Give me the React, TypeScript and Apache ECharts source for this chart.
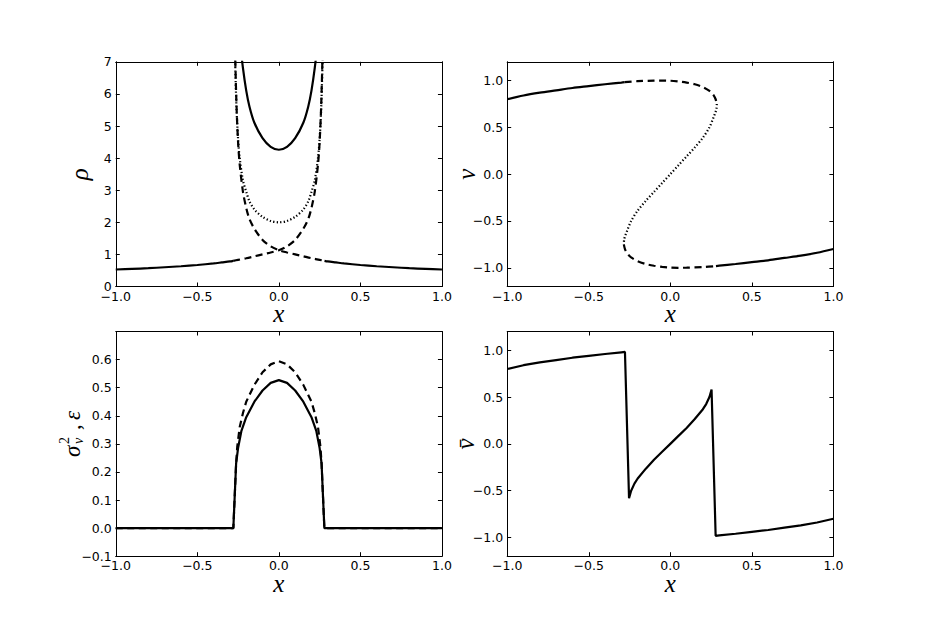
import { useEffect, useRef } from 'react';
import * as echarts from 'echarts';

// ---------- tick values ----------
const xTicks = [-1, -0.5, 0, 0.5, 1];
const rhoTicks = [0, 1, 2, 3, 4, 5, 6, 7];
const vTicks = [-1, -0.5, 0, 0.5, 1];
const sigTicks = [-0.1, 0, 0.1, 0.2, 0.3, 0.4, 0.5, 0.6];

// ---------- panel 1: rho ----------
const rhoOuterLeftX = [-1, -0.9, -0.8, -0.7, -0.6, -0.5, -0.4, -0.35, -0.3, -0.28];
const rhoOuterLeft = [0.53, 0.55, 0.57, 0.6, 0.63, 0.67, 0.72, 0.75, 0.78, 0.8];
const rhoOuterRightX = [0.28, 0.3, 0.35, 0.4, 0.5, 0.6, 0.7, 0.8, 0.9, 1];
const rhoOuterRight = [0.8, 0.78, 0.75, 0.72, 0.67, 0.63, 0.6, 0.57, 0.55, 0.53];
const rhoTotalX = [-0.25, -0.235, -0.22, -0.2, -0.18, -0.15, -0.1, -0.05, 0, 0.05, 0.1, 0.15, 0.18, 0.2, 0.22, 0.235, 0.25];
const rhoTotal = [8.5, 7.5, 6.8, 6.1, 5.6, 5.1, 4.62, 4.35, 4.26, 4.35, 4.62, 5.1, 5.6, 6.1, 6.8, 7.5, 8.5];
const rhoUpperBranchX = [-0.28, -0.25, -0.2, -0.15, -0.1, -0.05, 0, 0.05, 0.1, 0.15, 0.18, 0.2, 0.22, 0.24, 0.25, 0.26, 0.27, 0.278];
const rhoUpperBranch = [0.8, 0.83, 0.88, 0.94, 1.0, 1.06, 1.13, 1.25, 1.45, 1.8, 2.1, 2.45, 2.95, 3.8, 4.5, 5.7, 7.8, 11];
const rhoLowerBranchX = [-0.278, -0.27, -0.26, -0.25, -0.24, -0.22, -0.2, -0.18, -0.15, -0.1, -0.05, 0, 0.05, 0.1, 0.15, 0.2, 0.25, 0.28];
const rhoLowerBranch = [11, 7.8, 5.7, 4.5, 3.8, 2.95, 2.45, 2.1, 1.8, 1.45, 1.25, 1.13, 1.06, 1.0, 0.94, 0.88, 0.83, 0.8];
const rhoMiddleX = [-0.277, -0.27, -0.26, -0.25, -0.24, -0.22, -0.2, -0.18, -0.15, -0.1, -0.05, 0, 0.05, 0.1, 0.15, 0.18, 0.2, 0.22, 0.24, 0.25, 0.26, 0.27, 0.277];
const rhoMiddle = [10, 7.5, 5.6, 4.6, 4.0, 3.3, 2.95, 2.65, 2.4, 2.17, 2.04, 2.0, 2.04, 2.17, 2.4, 2.65, 2.95, 3.3, 4.0, 4.6, 5.6, 7.5, 10];

// ---------- panel 2: v ----------
const vUpSolidX = [-1, -0.9, -0.8, -0.7, -0.6, -0.5, -0.4, -0.3, -0.28];
const vUpSolid = [0.8, 0.84, 0.87, 0.895, 0.92, 0.94, 0.96, 0.978, 0.982];
const vUpDashX = [-0.28, -0.2, -0.1, -0.05, 0, 0.05, 0.1, 0.15, 0.2, 0.24, 0.265, 0.278, 0.285];
const vUpDash = [0.982, 0.993, 0.999, 1.0, 0.998, 0.99, 0.978, 0.96, 0.93, 0.89, 0.845, 0.8, 0.75];
const vMidX = [0.285, 0.283, 0.277, 0.268, 0.24, 0.2, 0.15, 0.1, 0.05, 0, -0.05, -0.1, -0.15, -0.2, -0.24, -0.268, -0.277, -0.283, -0.285];
const vMid = [0.75, 0.7, 0.66, 0.62, 0.5, 0.39, 0.285, 0.19, 0.095, 0, -0.095, -0.19, -0.285, -0.39, -0.5, -0.62, -0.66, -0.7, -0.75];
const vLowDashX = [-0.285, -0.278, -0.265, -0.24, -0.2, -0.15, -0.1, -0.05, 0, 0.05, 0.1, 0.2, 0.28];
const vLowDash = [-0.75, -0.8, -0.845, -0.89, -0.93, -0.96, -0.978, -0.99, -0.998, -1.0, -0.999, -0.993, -0.982];
const vLowSolidX = [0.28, 0.3, 0.4, 0.5, 0.6, 0.7, 0.8, 0.9, 1];
const vLowSolid = [-0.982, -0.978, -0.96, -0.94, -0.92, -0.895, -0.87, -0.84, -0.8];

// ---------- panel 3: sigma_v^2 (solid), epsilon (dashed) ----------
const sigmaX = [-1, -0.279, -0.262, -0.25, -0.23, -0.2, -0.15, -0.1, -0.05, 0, 0.05, 0.1, 0.15, 0.2, 0.23, 0.25, 0.262, 0.279, 1];
const sigma = [0, 0, 0.23, 0.285, 0.345, 0.395, 0.45, 0.49, 0.517, 0.527, 0.517, 0.49, 0.45, 0.395, 0.345, 0.285, 0.23, 0, 0];
const epsX = [-1, -0.279, -0.262, -0.255, -0.24, -0.22, -0.2, -0.15, -0.1, -0.05, 0, 0.05, 0.1, 0.15, 0.2, 0.22, 0.24, 0.255, 0.262, 0.279, 1];
const eps = [0, 0, 0.23, 0.29, 0.36, 0.41, 0.45, 0.51, 0.555, 0.583, 0.594, 0.583, 0.555, 0.51, 0.45, 0.41, 0.36, 0.29, 0.23, 0, 0];

// ---------- panel 4: mean velocity ----------
const vbarX = [-1, -0.9, -0.8, -0.7, -0.6, -0.5, -0.4, -0.3, -0.278, -0.253, -0.24, -0.22, -0.2, -0.15, -0.1, -0.05, 0, 0.05, 0.1, 0.15, 0.2, 0.22, 0.24, 0.253, 0.278, 0.3, 0.4, 0.5, 0.6, 0.7, 0.8, 0.9, 1];
const vbar = [0.8, 0.84, 0.87, 0.895, 0.92, 0.94, 0.96, 0.978, 0.982, -0.58, -0.5, -0.425, -0.37, -0.265, -0.17, -0.085, 0, 0.085, 0.17, 0.265, 0.37, 0.425, 0.5, 0.58, -0.982, -0.978, -0.96, -0.94, -0.92, -0.895, -0.87, -0.84, -0.8];

const pairs = (xs: number[], ys: number[]) => xs.map((x, i) => [x, ys[i]]);
const minus = (s: string) => s.replace('-', '\u2212');
const fmt1 = (v: number) => minus(v.toFixed(1));
const fmt0 = (v: number) => minus(String(Math.round(v)));

const TICK_FONT = { fontFamily: 'DejaVu Sans', fontSize: 12.5, lineHeight: 13, color: '#000' };
const NAME_FONT = { fontFamily: 'Liberation Serif', fontStyle: 'italic', fontSize: 25, lineHeight: 20, color: '#000' };

const L1 = 115.75, L2 = 507.2, T1 = 61.8, T2 = 331.5, W = 326.2, H = 224.7;
const grids = [
  { left: L1, top: T1, width: W, height: H },
  { left: L2, top: T1, width: W, height: H },
  { left: L1, top: T2, width: W, height: H },
  { left: L2, top: T2, width: W, height: H },
];

const lineAxis = { show: true, onZero: false, lineStyle: { color: '#000', width: 1 } };

function xAxes(g: number) {
  const base = {
    type: 'value', gridIndex: g, min: -1, max: 1, interval: 0.5,
    splitLine: { show: false },
    axisLine: lineAxis,
  };
  return [
    {
      ...base, position: 'bottom',
      axisTick: { show: true, inside: true, length: 4, lineStyle: { color: '#000' } },
      axisLabel: { ...TICK_FONT, margin: 3, formatter: fmt1, customValues: xTicks },
      name: 'x', nameLocation: 'middle', nameGap: 17, nameMoveOverlap: false, nameTextStyle: NAME_FONT,
    },
    {
      ...base, position: 'top',
      axisTick: { show: true, inside: true, length: 4, lineStyle: { color: '#000' } },
      axisLabel: { show: false },
    },
  ];
}

function yAxes(g: number, min: number, max: number, ticks: number[], fmt: (v: number) => string, name: string, nameGap: number) {
  const base = {
    type: 'value', gridIndex: g, min, max,
    splitLine: { show: false },
    axisLine: lineAxis,
  };
  return [
    {
      ...base, position: 'left',
      axisTick: { show: true, inside: true, length: 4, customValues: ticks, lineStyle: { color: '#000' } },
      axisLabel: { ...TICK_FONT, margin: 4, formatter: fmt, customValues: ticks },
      name, nameLocation: 'middle', nameRotate: 90, nameGap, nameMoveOverlap: false, nameTextStyle: NAME_FONT,
    },
    {
      ...base, position: 'right',
      axisTick: { show: true, inside: true, length: 4, customValues: ticks, lineStyle: { color: '#000' } },
      axisLabel: { show: false },
    },
  ];
}

const SOLID = 'solid';
const DASH = [7, 4.5];
const DOT = [1.3, 2.2];

function ser(g: number, data: number[][], type: any, smooth = 0.3) {
  return {
    type: 'line', xAxisIndex: 2 * g, yAxisIndex: 2 * g, data,
    showSymbol: false, symbol: 'none', smooth, silent: true, clip: true,
    lineStyle: { color: '#000', width: 2.2, type, cap: 'butt' },
  };
}

const SERIF = 'Liberation Serif';

const option = {
  animation: false,
  backgroundColor: '#fff',
  grid: grids,
  xAxis: [...xAxes(0), ...xAxes(1), ...xAxes(2), ...xAxes(3)],
  yAxis: [
    ...yAxes(0, 0, 7, rhoTicks, fmt0, 'ρ', 26),
    ...yAxes(1, -1.2, 1.2, vTicks, fmt1, 'v', 31),
    ...yAxes(2, -0.1, 0.7, sigTicks, fmt1, '', 30),
    ...yAxes(3, -1.2, 1.2, vTicks, fmt1, 'v\u0304', 32),
  ],
  graphic: [
    {
      type: 'group', x: 72, y: 433, rotation: Math.PI / 2,
      children: [
        { type: 'text', x: -24, y: 0, style: { text: 'σ', fontFamily: SERIF, fontStyle: 'italic', fontSize: 23, fill: '#000', verticalAlign: 'middle', align: 'left' } },
        { type: 'text', x: -11, y: 6, style: { text: 'v', fontFamily: SERIF, fontStyle: 'italic', fontSize: 14, fill: '#000', verticalAlign: 'middle', align: 'left' } },
        { type: 'text', x: -11, y: -8, style: { text: '2', fontFamily: SERIF, fontSize: 14, fill: '#000', verticalAlign: 'middle', align: 'left' } },
        { type: 'text', x: 3, y: 0, style: { text: ',', fontFamily: SERIF, fontSize: 23, fill: '#000', verticalAlign: 'middle', align: 'left' } },
        { type: 'text', x: 13, y: 0, style: { text: 'ε', fontFamily: SERIF, fontStyle: 'italic', fontSize: 23, fill: '#000', verticalAlign: 'middle', align: 'left' } },
      ],
    },
  ],
  series: [
    ser(0, pairs(rhoOuterLeftX, rhoOuterLeft), SOLID),
    ser(0, pairs(rhoOuterRightX, rhoOuterRight), SOLID),
    ser(0, pairs(rhoUpperBranchX, rhoUpperBranch), DASH),
    ser(0, pairs(rhoLowerBranchX, rhoLowerBranch), DASH),
    ser(0, pairs(rhoMiddleX, rhoMiddle), DOT),
    ser(0, pairs(rhoTotalX, rhoTotal), SOLID),

    ser(1, pairs(vUpSolidX, vUpSolid), SOLID),
    ser(1, pairs(vUpDashX, vUpDash), DASH),
    ser(1, pairs(vMidX, vMid), DOT),
    ser(1, pairs(vLowDashX, vLowDash), DASH),
    ser(1, pairs(vLowSolidX, vLowSolid), SOLID),

    ser(2, pairs(epsX, eps), DASH, 0),
    ser(2, pairs(sigmaX, sigma), SOLID, 0),

    ser(3, pairs(vbarX, vbar), SOLID, 0),
  ],
};

export default function App() {
  const ref = useRef<HTMLDivElement>(null);
  useEffect(() => {
    const chart = echarts.init(ref.current as HTMLDivElement, null, { renderer: 'svg' });
    chart.setOption(option as any);
    return () => chart.dispose();
  }, []);
  return (
    <div
      ref={ref}
      style={{ position: 'absolute', left: 0, top: 0, width: 926, height: 618, background: '#fff' }}
    />
  );
}
